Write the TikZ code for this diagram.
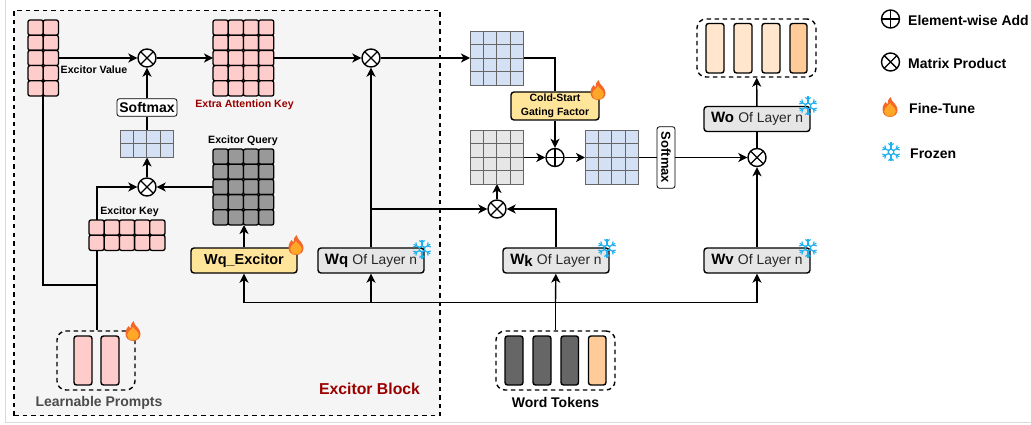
\documentclass[tikz,border=0pt]{standalone}
\usepackage{fontspec}
\setmainfont{Liberation Sans}
\usetikzlibrary{arrows.meta,calc}
\definecolor{cpink}{HTML}{FFCCCC}
\definecolor{cblue}{HTML}{D4E1F5}
\definecolor{cgray}{HTML}{E6E6E6}
\definecolor{cdark}{HTML}{999999}
\definecolor{cyel}{HTML}{FFE599}
\definecolor{cred}{HTML}{990000}
\definecolor{cpeach}{HTML}{FFE6CC}
\definecolor{corange}{HTML}{FFCC99}
\definecolor{cbar}{HTML}{666666}
\definecolor{cice}{HTML}{1FB0F0}
\definecolor{cfa}{HTML}{F4672A}
\definecolor{cfb}{HTML}{FFA726}
\tikzset{
 conn/.style={line width=1.4pt,draw=black},
 arr/.style={conn,-{Stealth[length=9pt,width=9pt,inset=2.5pt]}},
 op/.style={circle,draw=black,line width=1.4pt,minimum size=18pt,inner sep=0pt,fill=white},
 lay/.style={draw=black,line width=1.4pt,rounded corners=3pt,minimum width=106pt,minimum height=25pt,inner sep=0pt,fill=cgray},
 grp/.style={draw=black,line width=1.4pt,dash pattern=on 4.5pt off 3.5pt,rounded corners=9pt},
 bar/.style={draw=black,line width=1.4pt,rounded corners=2.5pt},
 lab/.style={inner sep=0pt,font=\fontsize{10.6}{12}\selectfont\bfseries},
 big/.style={inner sep=0pt,anchor=west,font=\fontsize{14}{16}\selectfont\bfseries},
}
\newcommand{\layertext}[1]{\fontsize{15}{16}\selectfont\textbf{#1} \fontsize{14}{16}\selectfont\textcolor{black!85}{Of} \fontsize{13.8}{16}\selectfont\textcolor{black!85}{Layer n}}
% tile matrix: x0,y0,cols,rows,cell,fill
\newcommand{\tiles}[6]{\foreach \i in {1,...,#3}{\foreach \j in {1,...,#4}{
  \draw[draw=black,line width=1.3pt,rounded corners=2pt,fill=#6] ({#1+(\i-1)*#5},{#2+(\j-1)*#5}) rectangle ++(#5,#5);}}}
% plain grid: x0,y0,cols,rows,cell,fill
\newcommand{\gridm}[6]{\foreach \i in {1,...,#3}{\foreach \j in {1,...,#4}{
  \draw[draw=black!60,line width=1pt,fill=#6] ({#1+(\i-1)*#5},{#2+(\j-1)*#5}) rectangle ++(#5,#5);}}}
\newcommand{\crossx}[1]{\draw[line width=1.4pt] ($(#1)+(-6.3,-6.3)$)--($(#1)+(6.3,6.3)$) ($(#1)+(-6.3,6.3)$)--($(#1)+(6.3,-6.3)$);}
\newcommand{\crossp}[1]{\draw[line width=1.4pt] ($(#1)+(-9,0)$)--($(#1)+(9,0)$) ($(#1)+(0,-9)$)--($(#1)+(0,9)$);}
\newcommand{\flame}[2]{\begin{scope}[shift={(#1,#2)}]
 \fill[cfa] (0,10) .. controls (-5,10) and (-7.5,6.5) .. (-7.5,2.5) .. controls (-7.5,-1.5) and (-5.5,-3.5) .. (-4.5,-5) .. controls (-4,-3.5) and (-3.5,-3) .. (-2.5,-2.5) .. controls (-3,-5.5) and (-1.5,-8) .. (0.5,-10) .. controls (1,-6.5) and (3,-5.5) .. (5,-3) .. controls (6.5,-1) and (7.5,1) .. (7.5,3) .. controls (7.5,7) and (4.5,10) .. (0,10) -- cycle;
 \fill[cfb] (0,9.3) .. controls (-3.6,9.3) and (-5.8,7) .. (-5.8,4.3) .. controls (-5.8,1) and (-2,-1) .. (0,-3.8) .. controls (2,-1) and (5.8,1) .. (5.8,4.3) .. controls (5.8,7) and (3.6,9.3) .. (0,9.3) -- cycle;
\end{scope}}
\newcommand{\snow}[2]{\begin{scope}[shift={(#1,#2)},cice,line width=1.15pt]
 \foreach \a in {0,60,...,300}{\begin{scope}[rotate=\a]
  \draw (0,3) -- (0,9.5);
  \draw (-2.6,8.6) -- (0,6.2) -- (2.6,8.6);
  \draw (-2.6,1.5) -- (0,3) -- (2.6,1.5);
 \end{scope}}
\end{scope}}
\begin{document}
\begin{tikzpicture}[x=1pt,y=-1pt]
\useasboundingbox (0,0) rectangle (1031,425);
% page frame
\draw[draw=black!15,line width=.8pt] (5.5,0) -- (5.5,422) -- (1031,422);
% excitor block
\node[draw=black,fill=black!4,line width=1.4pt,dash pattern=on 4.5pt off 4pt,minimum width=426pt,minimum height=405pt,inner sep=0pt] (block) at (227,213) {};
% anchors for matrix ends
\coordinate (evr) at (58,58);
\coordinate (evb) at (43,96);
\coordinate (eal) at (213,58);
\coordinate (ear) at (273,58);
\coordinate (eqb) at (244,225);
\coordinate (eqb2) at (213,187);
\coordinate (smb) at (147,157.5);
\coordinate (smt) at (147,130.5);
\coordinate (tbl) at (470,58);
\coordinate (tbr) at (523,58);
\coordinate (gyb) at (497,184);
\coordinate (gyr) at (523,157.5);
\coordinate (rbl) at (585,157.5);
\coordinate (rbr) at (639,157.5);
\coordinate (ekt) at (97,220);
\coordinate (ekb) at (97,250);
\coordinate (hub) at (97,285);
\coordinate (bus) at (555.5,302.5);
% operators
\node[op] (m1) at (147,58) {};
\node[op] (m2) at (147,187) {};
\node[op] (m3) at (371,58) {};
\node[op] (m4) at (497,209) {};
\node[op] (m5) at (757,157.5) {};
\node[op] (a1) at (555,157.5) {};
% boxes
\node[lay,fill=cyel] (wqe) at (244,260.5) {\fontsize{14.5}{16}\selectfont\bfseries Wq\_Excitor};
\node[lay] (wq) at (371,260.5) {\layertext{Wq}};
\node[lay] (wk) at (556,260.5) {\layertext{W\raisebox{-2.5pt}{k}}};
\node[lay] (wv) at (757,260.5) {\layertext{Wv}};
\node[lay] (wo) at (757,119) {\layertext{Wo}};
\node[draw=black,line width=.8pt,rounded corners=2.5pt,fill=white,minimum width=60pt,minimum height=17.5pt,inner sep=0pt,font=\fontsize{14}{16}\selectfont\bfseries] (sm1) at (147,107.5) {Softmax};
\node[draw=black,line width=.8pt,rounded corners=2.5pt,fill=white,minimum width=61.5pt,minimum height=18pt,inner sep=0pt,rotate=-90,font=\fontsize{13}{14}\selectfont\bfseries] (sm2) at (666,157.5) {Softmax};
\node[lay,fill=cyel,minimum width=88pt,minimum height=28pt,align=center,font=\fontsize{10.5}{13.5}\selectfont\bfseries] (cold) at (555,106) {Cold-Start\\Gating Factor};
% token groups
\node[grp,minimum width=78pt,minimum height=59pt,inner sep=0pt] (lp) at (96,360.5) {};
\node[grp,minimum width=119pt,minimum height=59pt,inner sep=0pt] (wt) at (555.5,360.5) {};
\node[grp,minimum width=119pt,minimum height=58pt,inner sep=0pt] (out) at (756.5,48) {};
% connectors
\draw[arr] (evr) -- (m1);
\draw[arr] (m1) -- (eal);
\draw[arr] (ear) -- (m3);
\draw[arr] (m3) -- (tbl);
\draw[arr] (sm1) -- (m1);
\draw[conn] (smt) -- (sm1);
\draw[arr] (m2) -- (smb);
\draw[arr] (eqb2) -- (m2);
\draw[arr] (ekt) |- (m2);
\draw[conn] (lp.north -| ekt) -- (ekb);
\draw[conn] (evb) |- (hub);
\draw[arr] (wqe) -- (eqb);
\draw[arr] (wq) -- (m3);
\draw[arr] (wq.north |- m4) -- (m4);
\draw[arr] (m4) -- (gyb);
\draw[arr] (wk) |- (m4);
\draw[arr] (gyr) -- (a1);
\draw[arr] (a1) -- (rbl);
\draw[conn] (tbr) -| (cold);
\draw[arr] (cold) -- (a1);
\draw[conn] (rbr) -- (sm2);
\draw[arr] (sm2) -- (m5);
\draw[arr] (wv) -- (m5);
\draw[conn] (m5) -- (wo);
\draw[arr] (wo) -- (out);
\draw[conn] (wt.north) -- (bus);
\draw[arr] (bus) -- (wk);
\draw[arr] (wq |- bus) -- (wq);
\draw[arr] (bus) -| (wqe);
\draw[arr] (bus) -| (wv);
% matrices
\tiles{28}{20}{2}{5}{15.2}{cpink}
\tiles{213}{20}{4}{5}{15.2}{cpink}
\tiles{213}{149}{4}{5}{15.2}{cdark}
\tiles{89}{220}{5}{2}{15.2}{cpink}
\gridm{120}{130.5}{4}{2}{13.4}{cblue}
\gridm{470}{31.5}{4}{4}{13.4}{cblue}
\gridm{470}{130.5}{4}{4}{13.4}{cgray}
\gridm{585}{130.5}{4}{4}{13.4}{cblue}
% bars
\draw[bar,fill=cpink] (74,336) rectangle (92,385);
\draw[bar,fill=cpink] (101,336) rectangle (119,385);
\draw[bar,fill=cbar] (505,336) rectangle (523,385);
\draw[bar,fill=cbar] (533,336) rectangle (551,385);
\draw[bar,fill=cbar] (561,336) rectangle (578.5,385);
\draw[bar,fill=corange] (588.5,336) rectangle (606,385);
\draw[bar,fill=cpeach] (706,23.5) rectangle (724,73);
\draw[bar,fill=cpeach] (734,23.5) rectangle (752,73);
\draw[bar,fill=cpeach] (762,23.5) rectangle (780,73);
\draw[bar,fill=corange] (790,23.5) rectangle (807,73);
% operator marks
\foreach \n in {m1,m2,m3,m4,m5}{\crossx{\n}}
\crossp{a1}
% labels
\node[lab] (l1) at (94,70) {Excitor Value};
\node[lab,text=cred] (l2) at (244.5,104.5) {Extra Attention Key};
\node[lab] (l3) at (243,141) {Excitor Query};
\node[lab] (l4) at (129.5,212) {Excitor Key};
\node[inner sep=0pt,font=\fontsize{14}{16}\selectfont\bfseries,text=black!70] (l5) at (99,402.5) {Learnable Prompts};
\node[inner sep=0pt,font=\fontsize{14}{16}\selectfont\bfseries] (l6) at (555.5,402.5) {Word Tokens};
\node[inner sep=0pt,font=\fontsize{15.8}{18}\selectfont\bfseries,text=cred] (l7) at (369.5,388.5) {Excitor Block};
% icons
\flame{296}{245}\flame{133}{331}\flame{598}{90}
\snow{422}{249}\snow{607}{248}\snow{808}{248}\snow{808}{106}
% legend
\node[op] (la) at (890.5,19) {};\crossp{la}
\node[op] (lm) at (890.5,62) {};\crossx{lm}
\flame{890}{107}
\snow{891}{152}
\node[big] (t1) at (908,20) {Element-wise Add};
\node[big] (t2) at (908,63) {Matrix Product};
\node[big] (t3) at (909,108) {Fine-Tune};
\node[big] (t4) at (910,154) {Frozen};
\end{tikzpicture}
\end{document}
